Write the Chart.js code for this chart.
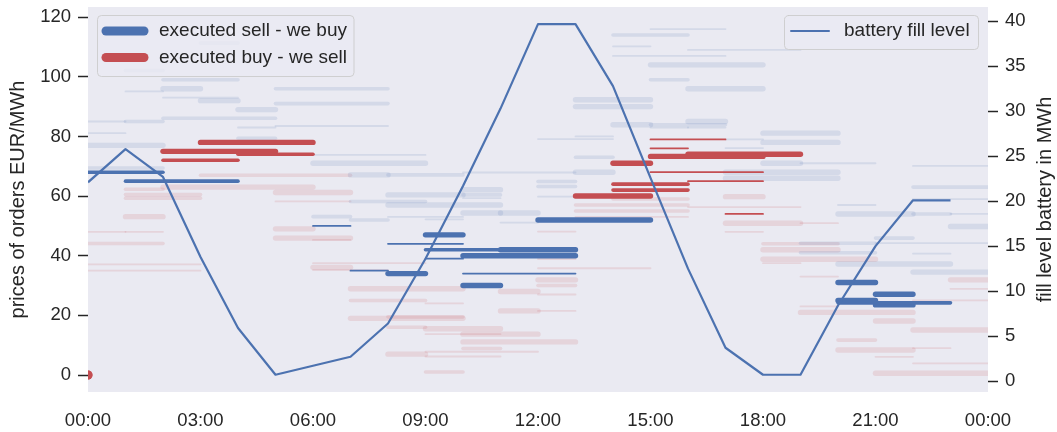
<!DOCTYPE html>
<html>
<head>
<meta charset="utf-8">
<script src="https://cdn.jsdelivr.net/npm/chart.js@4.4.1/dist/chart.umd.min.js"></script>
<style>
    html, body { margin: 0; padding: 0; background: #fff; }
    #wrap { width: 1057px; height: 432px; }
</style>
</head>
<body>
<div id="wrap"><canvas id="chart" width="1057" height="432"></canvas></div>
<script>
// axis ticks
const xTicks = [0, 3, 6, 9, 12, 15, 18, 21, 24];
const xTickLabels = ["00:00", "03:00", "06:00", "09:00", "12:00", "15:00", "18:00", "21:00", "00:00"];
const priceTicks = [0, 20, 40, 60, 80, 100, 120];
const fillTicks = [0, 5, 10, 15, 20, 25, 30, 35, 40];

// battery fill level (MWh) at the start of each hour
const fillHours = [0, 1, 2, 3, 4, 5, 6, 7, 8, 9, 10, 11, 12, 13, 14, 15, 16, 17, 18, 19, 20, 21, 22, 23];
const fillLevel = [22.1, 25.8, 22.7, 13.8, 5.9, 0.7, 1.7, 2.7, 6.4, 13.6, 21.7, 30.3, 39.7, 39.7, 32.8, 22.6, 12.5, 3.7, 0.7, 0.7, 8.4, 15.0, 20.1, 20.1];

// orders: [start hour, end hour, price EUR/MWh, volume MWh]
const executedSells = [
    [0, 2, 68, 2], [1, 4, 65, 2], [6, 7, 50, 1], [7, 8, 35, 1], [8, 9, 34, 3],
    [8, 10, 44, 1], [9, 10, 47, 3], [9, 11, 42, 2], [11, 13, 42, 3], [9, 10, 39, 1],
    [10, 13, 40, 3], [10, 13, 34, 1], [10, 11, 30, 3], [12, 15, 52, 3], [20, 21, 31, 3],
    [20, 21, 25, 3], [20, 23, 24.2, 2], [21, 22, 27.1, 3], [21, 22, 23.5, 3]
];
const executedBuys = [
    [0, 0, 0, 5], [2, 5, 75, 3], [2, 4, 72, 2], [3, 6, 78, 3], [4, 6, 74, 2],
    [13, 15, 60, 3], [14, 15, 71, 3], [14, 16, 64, 2], [14, 16, 62, 2], [15, 18, 73.3, 3],
    [16, 19, 74, 3], [15, 17, 79, 1], [15, 16, 76, 1], [15, 18, 68, 1], [16, 18, 65, 1],
    [17, 18, 54, 1]
];
const openSells = [
    [3, 4, 111.3, 2], [1, 2, 102.1, 2], [2, 4, 99, 2], [2, 3, 96, 3], [5, 8, 96, 2],
    [1, 2, 95.1, 1], [2, 4, 93, 1], [3, 4, 92, 3], [5, 8, 91, 2], [4, 5, 89, 3],
    [2, 5, 86.1, 2], [0, 1, 85, 1], [1, 2, 85, 2], [4, 5, 83, 1], [5, 8, 83.5, 1],
    [0, 1, 81.1, 1], [4, 5, 79.4, 2], [0, 2, 77, 3], [6, 9, 71, 3], [6, 9, 73.8, 1],
    [0, 2, 69.4, 2], [7, 8, 67.1, 3], [8, 10, 67.1, 2], [7, 9, 58.2, 2], [6, 7, 53.1, 2],
    [8, 10, 60.4, 3], [10, 11, 60.4, 2], [8, 11, 57, 3], [10, 11, 54.3, 3], [11, 12, 54.3, 3],
    [10, 11, 62.1, 3], [10, 11, 59.3, 1], [10, 13, 67.9, 1], [11, 12, 51.1, 1], [8, 10, 53, 1],
    [9, 10, 52.2, 1], [7, 8, 52, 2],
    [14, 16, 114, 2], [15, 17, 116, 1], [14, 15, 110.2, 1], [16, 19, 109, 1], [14, 17, 107, 1],
    [15, 18, 104, 3], [15, 16, 99, 2], [16, 18, 96, 3], [13, 15, 92.3, 3], [13, 15, 90, 3],
    [14, 15, 83.9, 3], [15, 17, 83.9, 2], [15, 16, 83, 1], [16, 17, 85, 3], [13, 14, 80, 1],
    [12, 14, 79.1, 1], [13, 14, 73, 2], [13, 14, 68, 3], [12, 13, 64.9, 2], [12, 13, 63.2, 2],
    [12, 13, 59.8, 1], [16, 17, 83, 1], [18, 20, 81.1, 3], [18, 20, 78, 3], [17, 18, 79, 1],
    [17, 18, 76.1, 1], [18, 19, 71, 3], [19, 21, 71, 1], [17, 20, 68, 3], [17, 20, 66, 3],
    [22, 24, 70.1, 1], [22, 24, 63, 2], [22, 24, 59, 1], [20, 21, 57, 1], [20, 22, 54, 3],
    [22, 23, 54, 2], [23, 24, 54, 1], [23, 24, 49.8, 3], [21, 22, 45.9, 2], [19, 21, 44.2, 2],
    [21, 24, 44.2, 1], [19, 21, 41, 2], [20, 23, 37.2, 3], [22, 24, 34.5, 3], [22, 23, 40.7, 1]
];
const openBuys = [
    [3, 7, 67, 2], [1, 2, 62.3, 2], [2, 6, 63, 3], [1, 3, 60.5, 2], [5, 7, 61.2, 3],
    [1, 3, 59.3, 2], [5, 7, 58.2, 1], [1, 2, 53.1, 3], [0, 1, 48, 1], [1, 2, 48, 1],
    [0, 2, 44.1, 2], [0, 3, 37.1, 1], [0, 3, 35, 1], [5, 6, 49, 3], [5, 7, 45.9, 3],
    [6, 7, 45.3, 1], [6, 9, 37.5, 1], [6, 7, 36.1, 3], [6, 8, 35.2, 1], [7, 10, 28.9, 3],
    [7, 9, 25, 2], [9, 10, 24, 1], [7, 10, 19, 3], [8, 10, 19.5, 2], [8, 9, 16, 2],
    [9, 11, 15.5, 3], [9, 11, 13.7, 1], [10, 12, 13.7, 3], [10, 13, 11.1, 3], [10, 11, 8.9, 2],
    [9, 12, 7.8, 1], [8, 9, 7, 3], [9, 11, 6.2, 1], [9, 10, 1, 2], [11, 12, 28, 3],
    [11, 12, 21.5, 3], [12, 13, 21.5, 1], [12, 15, 35.8, 1], [12, 13, 31.9, 3], [12, 13, 30, 2],
    [12, 13, 27, 1], [12, 13, 48.1, 1], [12, 13, 38.9, 1], [13, 16, 57, 2], [13, 16, 55, 2],
    [14, 16, 59, 2], [13, 16, 53, 1], [17, 18, 59.8, 3], [16, 19, 56.3, 1], [17, 19, 50.9, 3],
    [17, 18, 48, 1], [19, 20, 50.9, 1], [18, 20, 44, 2], [18, 20, 42, 3], [18, 21, 38.8, 3],
    [18, 19, 37.5, 1], [19, 20, 33, 1], [23, 24, 31.9, 3], [23, 24, 28.9, 1], [19, 20, 23, 1],
    [19, 22, 21, 3], [21, 22, 18.1, 3], [22, 24, 25, 1], [22, 24, 15.1, 3], [20, 21, 11.7, 2],
    [20, 22, 8.4, 3], [22, 23, 9, 1], [21, 22, 6.1, 1], [22, 24, 3.9, 1], [21, 24, 0.6, 3]
];

const BLUE = "#4c72b0";
const RED = "#c44e52";
const FAINT_BLUE = "rgba(76, 114, 176, 0.14)";
const FAINT_RED = "rgba(196, 78, 82, 0.14)";
const TEXT = "#262626";
const FONT = '"Liberation Sans", Arial, sans-serif';
const VOLUME_TO_WIDTH = 1.8;

Chart.defaults.font.family = FONT;
Chart.defaults.color = TEXT;

function orderDatasets(orders, color, order) {
    return orders.map(([start, end, price, volume]) => {
        const width = volume * VOLUME_TO_WIDTH;
        const single = start === end;

        return {
            data: single
                ? [{ x: start, y: price }]
                : [{ x: start, y: price }, { x: end, y: price }],
            borderColor: color,
            backgroundColor: color,
            borderWidth: width,
            borderCapStyle: "round",
            pointRadius: single ? width / 2 : 0,
            pointBorderWidth: 0,
            pointHoverRadius: 0,
            yAxisID: "y",
            clip: 0,
            order
        };
    });
}

function fixBox(size) {
    return (scale) => {
        if (scale.isHorizontal()) {
            scale.height = size;
        }
        else {
            scale.width = size;
        }
        scale.paddingTop = 0;
        scale.paddingBottom = 0;
        scale.paddingLeft = 0;
        scale.paddingRight = 0;
    };
}

function setTicks(values) {
    return (scale) => {
        scale.ticks = values.map((v) => ({ value: v }));
    };
}

const plotBackground = {
    id: "plotBackground",
    beforeDraw(chart) {
        const { ctx, chartArea: a } = chart;
        ctx.save();
        ctx.fillStyle = "#eaeaf2";
        ctx.fillRect(a.left, a.top, a.right - a.left, a.bottom - a.top);
        ctx.restore();
    }
};

function legendFrame(ctx, x, y, w, h) {
    ctx.beginPath();
    ctx.roundRect(x, y, w, h, 4);
    ctx.fillStyle = "rgba(234, 234, 242, 0.8)";
    ctx.fill();
    ctx.strokeStyle = "rgba(204, 204, 204, 0.9)";
    ctx.lineWidth = 1;
    ctx.stroke();
}

function legendEntry(ctx, x, y, color, width, text) {
    ctx.beginPath();
    ctx.moveTo(x, y);
    ctx.lineTo(x + 38, y);
    ctx.strokeStyle = color;
    ctx.lineWidth = width;
    ctx.lineCap = "round";
    ctx.stroke();
    ctx.fillStyle = TEXT;
    ctx.font = "19px " + FONT;
    ctx.textAlign = "left";
    ctx.textBaseline = "alphabetic";
    ctx.fillText(text, x + 53, y + 5);
}

const legendsAndTitle = {
    id: "legendsAndTitle",
    afterDraw(chart) {
        const ctx = chart.ctx;
        ctx.save();

        legendFrame(ctx, 97.5, 15.5, 256.5, 61);
        legendEntry(ctx, 106, 31, BLUE, 9, "executed sell - we buy");
        legendEntry(ctx, 106, 57.5, RED, 9, "executed buy - we sell");

        legendFrame(ctx, 784.5, 15.5, 194, 34);
        legendEntry(ctx, 791, 31, BLUE, 2, "battery fill level");

        // right axis title, reading bottom to top like the left one
        const area = chart.chartArea;
        ctx.translate(1051, (area.top + area.bottom) / 2);
        ctx.rotate(-Math.PI / 2);
        ctx.fillStyle = TEXT;
        ctx.font = "20px " + FONT;
        ctx.textAlign = "center";
        ctx.textBaseline = "alphabetic";
        ctx.fillText("fill level battery in MWh", 0, 0);

        ctx.restore();
    }
};

const battery = {
    label: "battery fill level",
    data: fillHours.map((h, i) => ({ x: h, y: fillLevel[i] })),
    borderColor: BLUE,
    borderWidth: 2.2,
    borderJoinStyle: "round",
    pointRadius: 0,
    pointHoverRadius: 0,
    yAxisID: "y2",
    clip: 0,
    order: 0
};

const tickFont = { size: 18.5, family: FONT };
const axisTicks = {
    drawOnChartArea: false,
    drawTicks: true,
    tickLength: 10,
    tickColor: TEXT,
    tickWidth: 1.5
};

new Chart(document.getElementById("chart").getContext("2d"), {
    type: "line",
    data: {
        datasets: [
            battery,
            ...orderDatasets(executedSells, BLUE, 1),
            ...orderDatasets(executedBuys, RED, 1),
            ...orderDatasets(openSells, FAINT_BLUE, 2),
            ...orderDatasets(openBuys, FAINT_RED, 2)
        ]
    },
    options: {
        responsive: false,
        animation: false,
        devicePixelRatio: 1,
        events: [],
        layout: { padding: { top: 7, left: 0, right: 0, bottom: 0 } },
        plugins: {
            legend: { display: false },
            tooltip: { enabled: false }
        },
        scales: {
            x: {
                type: "linear",
                min: 0,
                max: 24,
                afterBuildTicks: setTicks(xTicks),
                afterFit: fixBox(40),
                grid: { display: false },
                border: { display: false },
                ticks: {
                    font: tickFont,
                    color: TEXT,
                    maxRotation: 0,
                    autoSkip: false,
                    padding: 9.5,
                    callback: (value, index) => xTickLabels[index]
                }
            },
            y: {
                position: "left",
                min: -5.7,
                max: 123.4,
                afterBuildTicks: setTicks(priceTicks),
                afterFit: fixBox(88),
                grid: axisTicks,
                border: { display: false },
                ticks: { font: tickFont, color: TEXT, padding: 7 },
                title: {
                    display: true,
                    text: "prices of orders EUR/MWh",
                    font: { size: 20, family: FONT },
                    color: TEXT,
                    padding: { top: 6, bottom: 0 }
                }
            },
            y2: {
                position: "right",
                min: -1.22,
                max: 41.6,
                afterBuildTicks: setTicks(fillTicks),
                afterFit: fixBox(69),
                grid: axisTicks,
                border: { display: false },
                ticks: { font: tickFont, color: TEXT, padding: 7 }
            }
        }
    },
    plugins: [plotBackground, legendsAndTitle]
});
</script>
</body>
</html>
